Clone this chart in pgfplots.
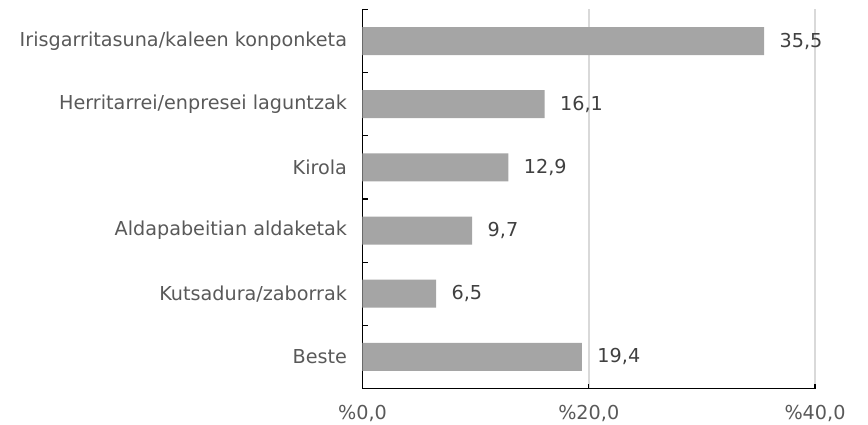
\documentclass[border=0pt]{standalone}
\usepackage{pgfplots}
\pgfplotsset{compat=1.18}
\usepackage{fontspec}
\setmainfont{DejaVu Sans}
\definecolor{bargray}{HTML}{A5A5A5}
\definecolor{txtgray}{HTML}{595959}
\definecolor{lblgray}{HTML}{404040}
\definecolor{gridgray}{HTML}{D9D9D9}
\begin{document}
\begin{tikzpicture}
\useasboundingbox (-362.5bp,-36.5bp) rectangle (505.5bp,388.5bp);
\begin{axis}[
  at={(0,0)}, anchor=south west,
  scale only axis,
  width=452.5bp, height=379bp,
  font=\fontsize{19.2bp}{22bp}\selectfont,
  xbar, bar width=28bp,
  xmin=0, xmax=40,
  ymin=-0.5, ymax=5.5,
  axis x line=bottom, axis y line=left,
  axis line style={-, black, line width=1.3bp},
  xtick={0,20,40},
  xticklabels={{\%0,0}, {\%20,0}, {\%40,0}},
  xmajorgrids, grid style={gridgray, line width=1.6bp},
  ytick={0,1,2,3,4,5},
  yticklabels={Beste, Kutsadura/zaborrak, Aldapabeitian aldaketak, Kirola, Herritarrei/enpresei laguntzak, Irisgarritasuna/kaleen konponketa},
  minor ytick={-0.5,0.5,1.5,2.5,3.5,4.5,5.5},
  tick align=inside,
  major tick length=4bp, minor tick length=6bp,
  major y tick style={draw=none},
  minor y tick style={draw=black, line width=1.3bp},
  major x tick style={draw=black, line width=1.3bp},
  ticklabel style={text=txtgray},
  xticklabel style={yshift=-13bp},
  yticklabel style={xshift=-12bp},
  nodes near coords,
  nodes near coords style={text=lblgray, anchor=west, xshift=12bp},
  /pgf/number format/.cd, fixed, fixed zerofill, precision=1, use comma, assume math mode=true,
]
\addplot[fill=bargray, draw=none] coordinates {
 (19.4,0) (6.5,1) (9.7,2) (12.9,3) (16.1,4) (35.5,5)
};
\end{axis}
\end{tikzpicture}
\end{document}
